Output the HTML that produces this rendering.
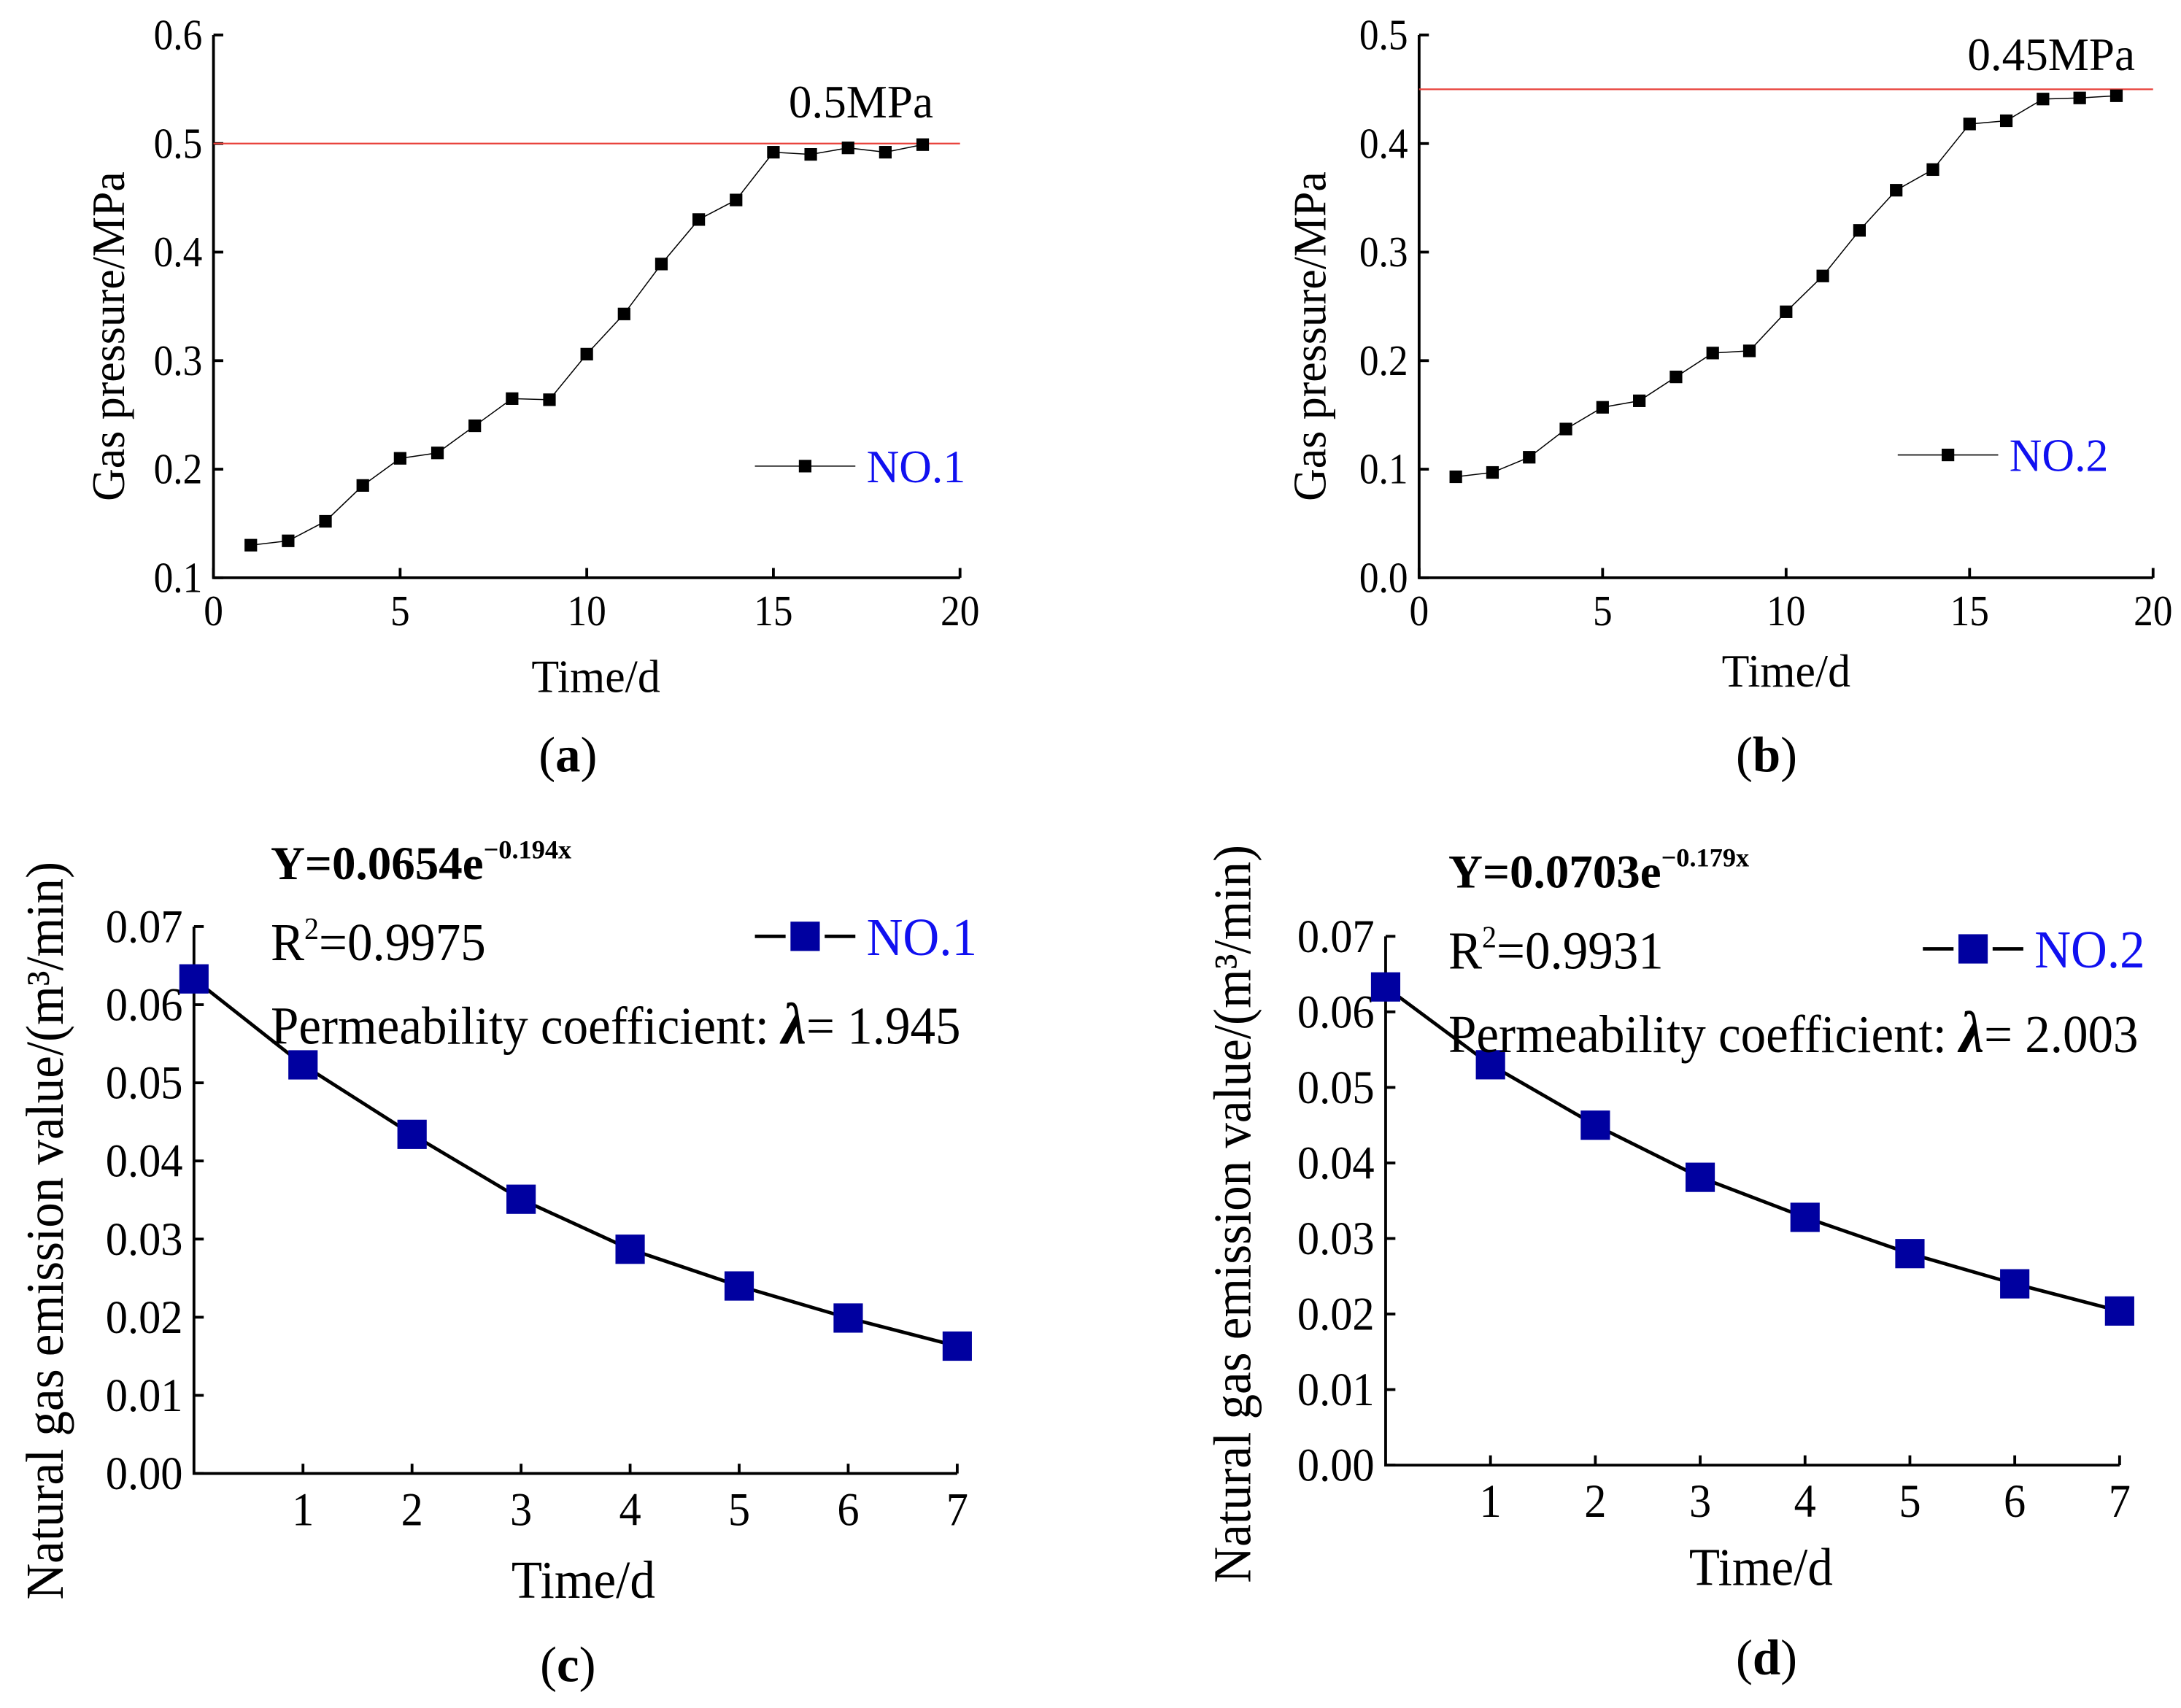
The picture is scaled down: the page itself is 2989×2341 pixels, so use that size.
<!DOCTYPE html>
<html><head><meta charset="utf-8"><style>
html,body{margin:0;padding:0;background:#fff;}
svg{display:block;}
text{font-family:"Liberation Serif",serif;}
</style></head><body>
<svg id="fig" width="2989" height="2341" viewBox="0 0 1563 1224" xmlns="http://www.w3.org/2000/svg"></svg>
<script>
const daysAB=[1,2,3,4,5,6,7,8,9,10,11,12,13,14,15,16,17,18,19];
const pressureA=[0.13,0.134,0.152,0.185,0.21,0.215,0.24,0.265,0.264,0.306,0.343,0.389,0.43,0.448,0.492,0.49,0.496,0.492,0.499];
const pressureB=[0.093,0.097,0.111,0.137,0.157,0.163,0.185,0.207,0.209,0.245,0.278,0.32,0.357,0.376,0.418,0.421,0.441,0.442,0.444];
const daysCD=[0,1,2,3,4,5,6,7];
const emissionC=[0.0633,0.0523,0.0434,0.0351,0.0287,0.0240,0.0199,0.0163];
const emissionD=[0.0633,0.0530,0.0450,0.0381,0.0328,0.0280,0.0240,0.0204];
const xTicksAB=[0,5,10,15,20];
const yTicksA=["0.1","0.2","0.3","0.4","0.5","0.6"];
const yTicksB=["0.0","0.1","0.2","0.3","0.4","0.5"];
const xTicksCD=[1,2,3,4,5,6,7];
const yTicksCD=["0.00","0.01","0.02","0.03","0.04","0.05","0.06","0.07"];

const NS="http://www.w3.org/2000/svg";
const svg=document.getElementById('fig');
function mk(tag,attrs,parent){const e=document.createElementNS(NS,tag);for(const k in attrs)e.setAttribute(k,attrs[k]);(parent||svg).appendChild(e);return e;}
function txt(g,x,y,s,size,anchor,sx,color){const t=mk('text',{transform:`translate(${x},${y}) scale(${sx||0.9},1)`,'font-size':size,'text-anchor':anchor||'start',fill:color||'#000'},g);t.textContent=s;return t;}

function panel(o){
  const g=mk('g',{});
  
  
  const X=v=>o.x0+(v-o.xmin)/(o.xmax-o.xmin)*(o.x1-o.x0);
  const Y=v=>o.y0-(v-o.ymin)/(o.ymax-o.ymin)*(o.y0-o.y1);
  const ax=mk('path',{d:`M${o.x0},${o.y1} L${o.x0},${o.y0} L${o.x1},${o.y0}`,fill:'none',stroke:'#000','stroke-width':2},g);
  
  
  o.xticks.forEach(v=>{
    mk('line',{x1:X(v),y1:o.y0,x2:X(v),y2:o.y0-7,stroke:'#000','stroke-width':2},g);
    const t=txt(g,X(v),o.y0+o.xtOff,String(v),o.tsize,'middle',o.tsx);
    
    
  });
  o.yticks.forEach(s=>{
    const v=parseFloat(s);
    mk('line',{x1:o.x0,y1:Y(v),x2:o.x0+7,y2:Y(v),stroke:'#000','stroke-width':2},g);
    const t=txt(g,o.x0-8,Y(v)+o.tsize*0.33,s,o.tsize,'end',o.tsx);
    
    
  });
  if(o.ref!==undefined){
    const r=mk('line',{x1:o.x0,y1:Y(o.ref),x2:o.x1,y2:Y(o.ref),stroke:'#e8413a','stroke-width':1.2},g);
    
    
  }
  const pts=o.xs.map((x,i)=>`${X(x)},${Y(o.ys[i])}`).join(' ');
  const pl=mk('polyline',{points:pts,fill:'none',stroke:'#000','stroke-width':o.lw},g);
  
  
  o.xs.forEach((x,i)=>{
    const m=mk('rect',{x:X(x)-o.ms/2,y:Y(o.ys[i])-o.ms/2,width:o.ms,height:o.ms,fill:o.mc},g);
    
    
  });
  const xl=txt(g,o.xlab[0],o.xlab[1],'Time/d',o.lsize,'middle',o.lsx);
  
  
  const yl=mk('text',{transform:`translate(${o.ylab[0]},${o.ylab[1]}) rotate(-90) scale(${o.lsx},1)`,'font-size':o.lsize,'text-anchor':'middle',fill:'#000'},g);
  yl.textContent=o.ytitle;
  
  
  const lg=mk('g',{},g);
  
  
  const [lx,ly]=o.leg;
  mk('line',{x1:lx,y1:ly,x2:lx+72,y2:ly,stroke:'#000','stroke-width':o.lw},lg);
  if(o.ms>15){mk('rect',{x:lx+22,y:ly-4,width:28,height:8,fill:'#fff'},lg);}
  mk('rect',{x:lx+36-o.ms/2,y:ly-o.ms/2,width:o.ms,height:o.ms,fill:o.mc},lg);
  txt(lg,lx+80,ly+o.lsize*0.35,o.legText,o.lsize,'start',o.lsx,'#1010f0');
  const cap=mk('text',{x:o.cap[0],y:o.cap[1],'font-size':36,'text-anchor':'middle',fill:'#000'},g);
  cap.innerHTML=`(<tspan font-weight="bold">${o.capText}</tspan>)`;
  
  
  return g;
}

panel({name:'chart-a',x0:153,x1:688,xmin:0,xmax:20,y0:414,y1:25,ymin:0.1,ymax:0.6,xticks:xTicksAB,yticks:yTicksA,
  xs:daysAB,ys:pressureA,ms:9,mc:'#000',lw:0.8,ref:0.5,tsize:31,tsx:0.9,lsize:33,lsx:0.98,xtOff:34,
  xlab:[427,496],ylab:[89,241],ytitle:'Gas pressure/MPa',leg:[541,334],legText:'NO.1',cap:[407,553],capText:'a'});
txt(svg,617,84,'0.5MPa',33,'middle',1.0);
panel({name:'chart-b',x0:1017,x1:1543,xmin:0,xmax:20,y0:414,y1:25,ymin:0,ymax:0.5,xticks:xTicksAB,yticks:yTicksB,
  xs:daysAB,ys:pressureB,ms:9,mc:'#000',lw:0.8,ref:0.45,tsize:31,tsx:0.9,lsize:33,lsx:0.98,xtOff:34,
  xlab:[1280,492],ylab:[950,241],ytitle:'Gas pressure/MPa',leg:[1360,326],legText:'NO.2',cap:[1266,553],capText:'b'});
txt(svg,1470,50,'0.45MPa',33,'middle',1.0);
panel({name:'chart-c',x0:139,x1:686,xmin:0,xmax:7,y0:1056,y1:664,ymin:0,ymax:0.07,xticks:xTicksCD,yticks:yTicksCD,
  xs:daysCD,ys:emissionC,ms:21,mc:'#0000a0',lw:2.5,tsize:34,tsx:0.93,lsize:38,lsx:0.95,xtOff:37,
  xlab:[418,1145],ylab:[45,882],ytitle:'Natural gas emission value/(m³/min)',leg:[541,671],legText:'NO.1',cap:[407,1205],capText:'c'});
panel({name:'chart-d',x0:993,x1:1519,xmin:0,xmax:7,y0:1050,y1:671,ymin:0,ymax:0.07,xticks:xTicksCD,yticks:yTicksCD,
  xs:daysCD,ys:emissionD,ms:21,mc:'#0000a0',lw:2.5,tsize:34,tsx:0.93,lsize:38,lsx:0.95,xtOff:37,
  xlab:[1262,1136],ylab:[896,870],ytitle:'Natural gas emission value/(m³/min)',leg:[1378,680],legText:'NO.2',cap:[1266,1200],capText:'d'});

function annot(x,y,coef,exp,r2,lam){
  const g=mk('g',{});
  
  
  const a=mk('text',{transform:`translate(${x},${y}) scale(1.0,1)`,'font-size':34,'font-weight':'bold',fill:'#000'},g);
  a.innerHTML=`Y=${coef}e<tspan font-size="19" dy="-15">−${exp}x</tspan>`;
  const b=mk('text',{transform:`translate(${x},${y+58}) scale(0.95,1)`,'font-size':38,fill:'#000'},g);
  b.innerHTML=`R<tspan font-size="22" dy="-15">2</tspan><tspan dy="15">=${r2}</tspan>`;
  const c=mk('text',{transform:`translate(${x},${y+118}) scale(0.95,1)`,'font-size':38,fill:'#000'},g);
  c.innerHTML=`Permeability coefficient:  <tspan font-weight="bold" font-style="italic" font-size="42">λ</tspan>= ${lam}`;
}
annot(194,630,'0.0654','0.194','0.9975','1.945');
annot(1038,636,'0.0703','0.179','0.9931','2.003');
</script>
</body></html>
